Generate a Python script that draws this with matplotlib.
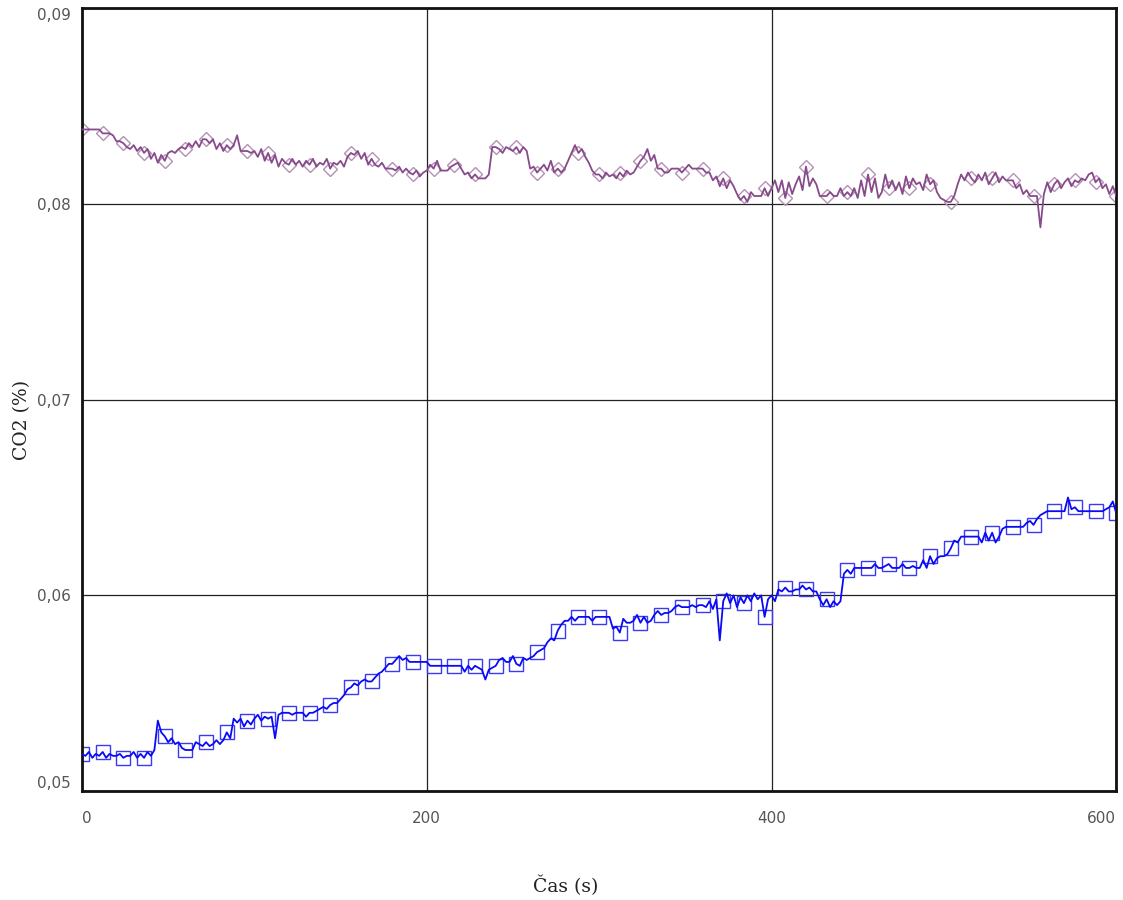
import numpy as np
import matplotlib
matplotlib.use("Agg")
import matplotlib.pyplot as plt

# time axis (s), 2 s sampling
time_s = list(range(0, 601, 2))

co2_purple = [
    0.0838, 0.0838, 0.0838, 0.0838, 0.0838, 0.0838, 0.0836, 0.0836, 0.0836, 0.0835,
    0.0832, 0.0832, 0.0831, 0.0829, 0.0828, 0.0830, 0.0827, 0.0829, 0.0826, 0.0828,
    0.0823, 0.0826, 0.0821, 0.0825, 0.0822, 0.0826, 0.0827, 0.0826, 0.0828, 0.0829,
    0.0828, 0.0831, 0.0829, 0.0832, 0.0829, 0.0833, 0.0833, 0.0831, 0.0833, 0.0828,
    0.0831, 0.0827, 0.0830, 0.0828, 0.0830, 0.0835, 0.0827, 0.0827, 0.0827, 0.0826,
    0.0827, 0.0824, 0.0828, 0.0822, 0.0826, 0.0821, 0.0825, 0.0819, 0.0823, 0.0821,
    0.0820, 0.0823, 0.0820, 0.0822, 0.0819, 0.0822, 0.0820, 0.0823, 0.0819, 0.0821,
    0.0820, 0.0823, 0.0818, 0.0821, 0.0820, 0.0822, 0.0819, 0.0824, 0.0826, 0.0825,
    0.0827, 0.0823, 0.0826, 0.0820, 0.0823, 0.0820, 0.0819, 0.0821, 0.0818, 0.0818,
    0.0818, 0.0817, 0.0819, 0.0816, 0.0818, 0.0816, 0.0815, 0.0817, 0.0814, 0.0816,
    0.0817, 0.0820, 0.0818, 0.0822, 0.0817, 0.0817, 0.0817, 0.0819, 0.0820, 0.0821,
    0.0818, 0.0815, 0.0816, 0.0813, 0.0815, 0.0813, 0.0813, 0.0813, 0.0815, 0.0829,
    0.0829, 0.0828, 0.0826, 0.0829, 0.0828, 0.0827, 0.0829, 0.0826, 0.0829, 0.0827,
    0.0818, 0.0819, 0.0816, 0.0818, 0.0820, 0.0817, 0.0822, 0.0816, 0.0818, 0.0816,
    0.0818, 0.0822, 0.0826, 0.0830, 0.0826, 0.0828, 0.0824, 0.0821, 0.0817, 0.0815,
    0.0815, 0.0813, 0.0816, 0.0814, 0.0815, 0.0813, 0.0816, 0.0814, 0.0817, 0.0815,
    0.0816, 0.0819, 0.0822, 0.0824, 0.0828, 0.0822, 0.0825, 0.0818, 0.0818, 0.0816,
    0.0816, 0.0818, 0.0818, 0.0818, 0.0816, 0.0818, 0.0820, 0.0818, 0.0818, 0.0818,
    0.0818, 0.0816, 0.0816, 0.0812, 0.0814, 0.0809, 0.0813, 0.0808, 0.0812, 0.0809,
    0.0805, 0.0802, 0.0804, 0.0801, 0.0806, 0.0804, 0.0804, 0.0804, 0.0808, 0.0804,
    0.0808, 0.0812, 0.0806, 0.0812, 0.0803, 0.0811, 0.0805, 0.0810, 0.0814, 0.0807,
    0.0819, 0.0809, 0.0813, 0.0810, 0.0804, 0.0804, 0.0804, 0.0806, 0.0804, 0.0804,
    0.0808, 0.0804, 0.0806, 0.0804, 0.0808, 0.0803, 0.0812, 0.0804, 0.0815, 0.0806,
    0.0813, 0.0803, 0.0806, 0.0815, 0.0808, 0.0812, 0.0807, 0.0811, 0.0805, 0.0814,
    0.0808, 0.0813, 0.0810, 0.0811, 0.0807, 0.0815, 0.0810, 0.0812, 0.0806, 0.0803,
    0.0802, 0.0801, 0.0801, 0.0804, 0.0810, 0.0815, 0.0812, 0.0816, 0.0813, 0.0811,
    0.0815, 0.0812, 0.0816, 0.0810, 0.0813, 0.0816, 0.0811, 0.0814, 0.0812, 0.0812,
    0.0812, 0.0808, 0.0810, 0.0805, 0.0807, 0.0804, 0.0804, 0.0804, 0.0788, 0.0805,
    0.0811, 0.0806, 0.0810, 0.0812, 0.0808, 0.0811, 0.0813, 0.0809, 0.0812, 0.0811,
    0.0813, 0.0812, 0.0815, 0.0816, 0.0811, 0.0813, 0.0808, 0.0810, 0.0805, 0.0809,
    0.0804,
]

co2_blue = [
    0.0519, 0.0518, 0.0520, 0.0517, 0.0519, 0.0518, 0.0520, 0.0517, 0.0519, 0.0518,
    0.0518, 0.0519, 0.0517, 0.0518, 0.0518, 0.0520, 0.0517, 0.0519, 0.0517, 0.0520,
    0.0518, 0.0521, 0.0536, 0.0530, 0.0528, 0.0525, 0.0527, 0.0524, 0.0525, 0.0522,
    0.0521, 0.0521, 0.0521, 0.0525, 0.0524, 0.0523, 0.0525, 0.0523, 0.0524, 0.0526,
    0.0524, 0.0526, 0.0530, 0.0527, 0.0537, 0.0535, 0.0537, 0.0533, 0.0536, 0.0534,
    0.0537, 0.0539, 0.0536, 0.0538, 0.0537, 0.0538, 0.0527, 0.0539, 0.0540, 0.0540,
    0.0540, 0.0539, 0.0540, 0.0540, 0.0540, 0.0538, 0.0540, 0.0540, 0.0541, 0.0542,
    0.0543, 0.0542, 0.0544, 0.0545, 0.0545, 0.0547, 0.0549, 0.0552, 0.0553, 0.0555,
    0.0554, 0.0556, 0.0557, 0.0556, 0.0556, 0.0558, 0.0560, 0.0561, 0.0563, 0.0565,
    0.0565, 0.0567, 0.0569, 0.0567, 0.0568, 0.0566, 0.0566, 0.0566, 0.0566, 0.0566,
    0.0566, 0.0564, 0.0564, 0.0564, 0.0564, 0.0564, 0.0564, 0.0564, 0.0564, 0.0564,
    0.0564, 0.0561, 0.0564, 0.0562, 0.0564, 0.0563, 0.0562, 0.0557, 0.0562, 0.0563,
    0.0564, 0.0567, 0.0568, 0.0566, 0.0566, 0.0569, 0.0565, 0.0564, 0.0568, 0.0567,
    0.0568, 0.0569, 0.0571, 0.0572, 0.0573, 0.0576, 0.0578, 0.0577, 0.0582, 0.0585,
    0.0587, 0.0587, 0.0589, 0.0587, 0.0589, 0.0589, 0.0589, 0.0589, 0.0587, 0.0589,
    0.0589, 0.0589, 0.0589, 0.0589, 0.0583, 0.0584, 0.0581, 0.0588, 0.0586, 0.0586,
    0.0587, 0.0590, 0.0586, 0.0589, 0.0586, 0.0587, 0.0590, 0.0592, 0.0590, 0.0591,
    0.0591, 0.0592, 0.0594, 0.0595, 0.0594, 0.0594, 0.0594, 0.0595, 0.0594, 0.0595,
    0.0595, 0.0594, 0.0597, 0.0593, 0.0598, 0.0577, 0.0597, 0.0601, 0.0596, 0.0600,
    0.0594, 0.0599, 0.0596, 0.0600, 0.0597, 0.0601, 0.0598, 0.0600, 0.0589, 0.0598,
    0.0600, 0.0597, 0.0603, 0.0602, 0.0604, 0.0602, 0.0602, 0.0603, 0.0603, 0.0605,
    0.0603, 0.0604, 0.0602, 0.0602, 0.0598, 0.0595, 0.0598, 0.0594, 0.0597, 0.0595,
    0.0597, 0.0611, 0.0613, 0.0611, 0.0614, 0.0614, 0.0614, 0.0614, 0.0614, 0.0614,
    0.0616, 0.0614, 0.0614, 0.0615, 0.0616, 0.0614, 0.0614, 0.0614, 0.0616, 0.0614,
    0.0614, 0.0615, 0.0614, 0.0614, 0.0618, 0.0614, 0.0620, 0.0616, 0.0619, 0.0620,
    0.0620, 0.0621, 0.0624, 0.0628, 0.0627, 0.0630, 0.0630, 0.0630, 0.0630, 0.0630,
    0.0630, 0.0627, 0.0632, 0.0628, 0.0632, 0.0627, 0.0630, 0.0634, 0.0635, 0.0635,
    0.0635, 0.0635, 0.0635, 0.0635, 0.0637, 0.0638, 0.0636, 0.0639, 0.0641, 0.0642,
    0.0643, 0.0643, 0.0643, 0.0643, 0.0643, 0.0643, 0.0650, 0.0644, 0.0645, 0.0643,
    0.0643, 0.0643, 0.0643, 0.0643, 0.0643, 0.0643, 0.0643, 0.0644, 0.0645, 0.0648,
    0.0642,
]

y_ticks = [0.05, 0.06, 0.07, 0.08, 0.09]
y_tick_labels = ["0,05", "0,06", "0,07", "0,08", "0,09"]
x_ticks = [0, 200, 400, 600]
x_tick_labels = ["0", "200", "400", "600"]

fig = plt.figure(figsize=(11.23, 9.0), dpi=100)
ax = fig.add_axes([0.073, 0.121, 0.921, 0.870])

purple = "#874a8a"
blue = "#0a0af5"

ax.plot(time_s, co2_purple, linestyle="none", marker="D", markevery=6,
        markersize=7.5, markerfacecolor="none", markeredgecolor="#b48fb6",
        markeredgewidth=1.0, zorder=2, clip_on=True)
ax.plot(time_s, co2_purple, color=purple, linewidth=1.3, zorder=3)

ax.plot(time_s, co2_blue, linestyle="none", marker="s", markevery=6,
        markersize=9.5, markerfacecolor="none", markeredgecolor="#3a3af5",
        markeredgewidth=1.0, zorder=2)
ax.plot(time_s, co2_blue, color=blue, linewidth=1.3, zorder=3)

ax.set_xlim(0, 600)
ax.set_ylim(0.05, 0.09)

ax.set_xticks(x_ticks)
ax.set_xticklabels(x_tick_labels)
ax.set_yticks(y_ticks)
ax.set_yticklabels(y_tick_labels)

ax.tick_params(axis="both", length=0, labelsize=11, labelcolor="#555555")
ax.tick_params(axis="x", pad=14)
ax.tick_params(axis="y", pad=8)

xl = ax.get_xticklabels()
xl[0].set_horizontalalignment("left")
xl[-1].set_horizontalalignment("right")
yl = ax.get_yticklabels()
yl[0].set_verticalalignment("bottom")
yl[-1].set_verticalalignment("top")

ax.grid(True, color="#222222", linewidth=0.9)
ax.set_axisbelow(True)
for s in ax.spines.values():
    s.set_linewidth(2)
    s.set_color("#111111")

ax.set_ylabel("CO2 (%)", fontsize=13.5, family="DejaVu Serif", color="#222222")
ax.yaxis.set_label_coords(-0.058, 0.474)
ax.set_xlabel("Čas (s)", fontsize=13.5, family="DejaVu Serif", color="#222222")
ax.xaxis.set_label_coords(0.468, -0.121)
ax.xaxis.label.set_verticalalignment("center")
ax.yaxis.label.set_verticalalignment("center")

fig.savefig("out.png", dpi=100)
